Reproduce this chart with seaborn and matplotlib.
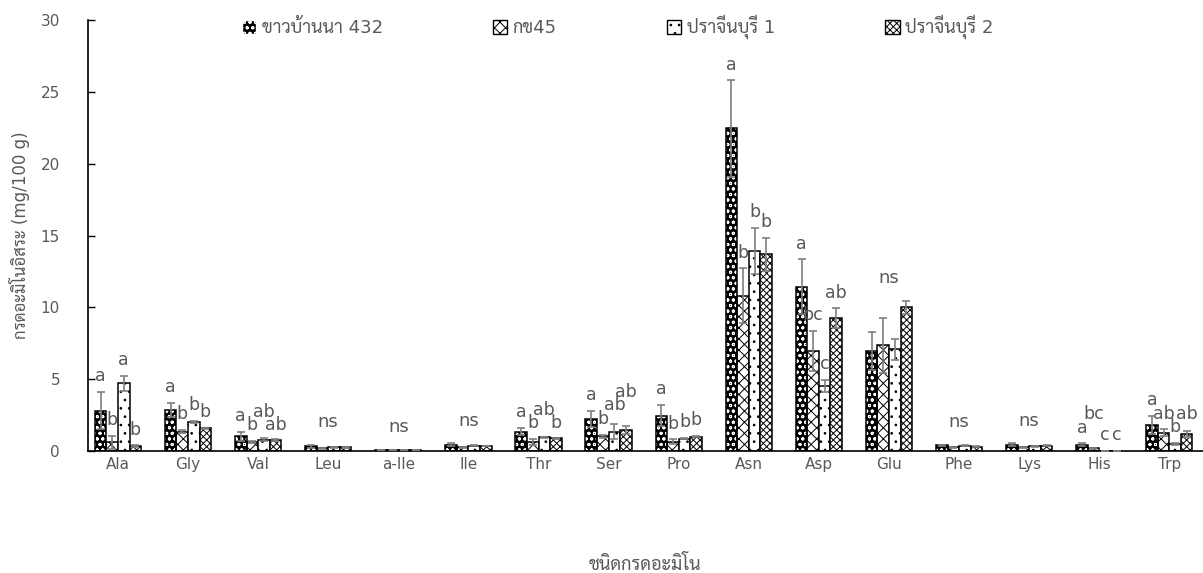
import seaborn as sns
import pandas as pd
import numpy as np
import matplotlib.pyplot as plt
from matplotlib.patches import Patch, Rectangle

# amino acid contents (mg/100 g)
amino = ['Ala', 'Gly', 'Val', 'Leu', 'a-Ile', 'Ile', 'Thr', 'Ser', 'Pro',
         'Asn', 'Asp', 'Glu', 'Phe', 'Lys', 'His', 'Trp']
varieties = ['ขาวบ้านนา 432', 'กข45', 'ปราจีนบุรี 1', 'ปราจีนบุรี 2']

khao = [2.80, 2.85, 1.02, 0.32, 0.06, 0.42, 1.35, 2.23, 2.46, 22.45, 11.43, 6.98, 0.38, 0.42, 0.42, 1.81]
khao_err = [1.30, 0.52, 0.30, 0.08, 0.01, 0.10, 0.23, 0.55, 0.74, 3.35, 1.90, 1.32, 0.05, 0.10, 0.10, 0.62]
rd45 = [0.62, 1.35, 0.62, 0.18, 0.05, 0.25, 0.60, 1.02, 0.65, 10.81, 6.96, 7.35, 0.25, 0.25, 0.19, 1.28]
rd45_err = [0.45, 0.10, 0.06, 0.02, 0.01, 0.03, 0.22, 0.10, 0.15, 1.90, 1.40, 1.93, 0.03, 0.04, 0.02, 0.22]
pcb1 = [4.71, 2.02, 0.78, 0.26, 0.09, 0.35, 0.95, 1.35, 0.86, 13.94, 4.52, 7.07, 0.36, 0.32, 0.0, 0.49]
pcb1_err = [0.52, 0.05, 0.10, 0.03, 0.01, 0.03, 0.05, 0.50, 0.05, 1.60, 0.42, 0.72, 0.03, 0.03, 0.0, 0.06]
pcb2 = [0.33, 1.58, 0.78, 0.26, 0.07, 0.33, 0.88, 1.46, 1.00, 13.69, 9.23, 10.00, 0.30, 0.35, 0.0, 1.18]
pcb2_err = [0.05, 0.05, 0.07, 0.02, 0.01, 0.02, 0.03, 0.30, 0.05, 1.15, 0.70, 0.44, 0.02, 0.03, 0.0, 0.23]

# significance letters per amino acid ('ns' = one label for the group)
letters = [
    ['a', 'b', 'a', 'b'], ['a', 'b', 'b', 'b'], ['a', 'b', 'ab', 'ab'], 'ns', 'ns', 'ns',
    ['a', 'b', 'ab', 'b'], ['a', 'b', 'ab', 'ab'], ['a', 'b', 'b', 'b'], ['a', 'b', 'b', 'b'],
    ['a', 'bc', 'c', 'ab'], 'ns', 'ns', 'ns', ['a', 'bc', 'c', 'c'], ['a', 'ab', 'b', 'ab'],
]

means = [khao, rd45, pcb1, pcb2]
errs = [khao_err, rd45_err, pcb1_err, pcb2_err]
df = pd.DataFrame({
    'amino': np.tile(amino, 4),
    'variety': np.repeat(varieties, len(amino)),
    'value': np.concatenate(means),
})

sns.set_style('white')
plt.rcParams['font.family'] = ['DejaVu Sans', 'Sarabun']
plt.rcParams['hatch.linewidth'] = 0.7
grey = '#595959'

fig = plt.figure(figsize=(12.03, 5.73), dpi=100)
ax = fig.add_axes([0.073, 0.213, 0.927, 0.752])

sns.barplot(data=df, x='amino', y='value', hue='variety', order=amino,
            hue_order=varieties, width=0.66, gap=0, legend=False, ax=ax,
            palette=['white'] * 4, edgecolor='black', linewidth=1.1)
bar_conts = list(ax.containers)

hatches = ['ooo', 'xxx', '..', 'xxxxx']
for i, cont in enumerate(bar_conts):
    for bar in cont:
        bar.set_hatch(hatches[i])
        if i == 0:
            bar.set_facecolor('black')
            bar.set_edgecolor('white')
            bar.set_linewidth(0)
            ax.add_patch(Rectangle((bar.get_x(), 0), bar.get_width(), bar.get_height(),
                                   fill=False, edgecolor='black', linewidth=1.1, zorder=bar.get_zorder()))
        else:
            bar.set_edgecolor('black')

# error bars
tops = np.zeros((4, len(amino)))
for i, cont in enumerate(bar_conts):
    xs = np.array([b.get_x() + b.get_width() / 2 for b in cont])
    ys = np.array(means[i])
    e = np.array(errs[i])
    ax.errorbar(xs, ys, yerr=e, fmt='none', ecolor='#7f7f7f', elinewidth=1.2,
                capsize=3, capthick=1.2, zorder=5)
    tops[i] = ys + e

# letters above the error bars, nudged when neighbours would collide
for j, lab in enumerate(letters):
    if lab == 'ns':
        ax.text(j, tops[:, j].max() + 1.6, 'ns', ha='center', va='center',
                color=grey, fontsize=13)
        continue
    ys = list(tops[:, j] + 1.1)
    for i in range(1, 4):
        if len(lab[i]) + len(lab[i - 1]) >= 3 and abs(ys[i] - ys[i - 1]) < 0.9:
            if ys[i - 1] - 0.95 > tops[i, j] + 0.5:
                ys[i] = ys[i - 1] - 0.95
            else:
                ys[i] = ys[i - 1] + 0.95
    for i, cont in enumerate(bar_conts):
        b = cont[j]
        ax.text(b.get_x() + b.get_width() / 2, ys[i], lab[i],
                ha='center', va='center', color=grey, fontsize=12.5)

ax.set_xlim(-0.43, 15.48)
ax.set_ylim(0, 30)
ax.set_yticks(range(0, 31, 5))
ax.tick_params(axis='y', direction='in', length=5, width=1, color='black',
               labelcolor=grey, labelsize=11, pad=20, left=True)
ax.tick_params(axis='x', length=0, labelcolor=grey, labelsize=11, pad=4)
for s in ['top', 'right']:
    ax.spines[s].set_visible(False)
for s in ['left', 'bottom']:
    ax.spines[s].set_color('black')
    ax.spines[s].set_linewidth(1.2)

ax.set_xlabel('ชนิดกรดอะมิโน', color=grey, fontsize=13, labelpad=60)
ax.set_ylabel('กรดอะมิโนอิสระ (mg/100 g)', color=grey, fontsize=12, labelpad=8)

handles = []
for i, v in enumerate(varieties):
    if i == 0:
        handles.append(Patch(facecolor='black', edgecolor='white', hatch=hatches[i], label=v))
    else:
        handles.append(Patch(facecolor='white', edgecolor='black', hatch=hatches[i], label=v))
leg = ax.legend(handles=handles, loc='center', bbox_to_anchor=(0.475, 0.984), ncol=4,
                frameon=False, fontsize=13, columnspacing=6.1, handlelength=0.8,
                handleheight=0.8, handletextpad=0.3)
for t in leg.get_texts():
    t.set_color(grey)

fig.savefig('out.png', dpi=100)
